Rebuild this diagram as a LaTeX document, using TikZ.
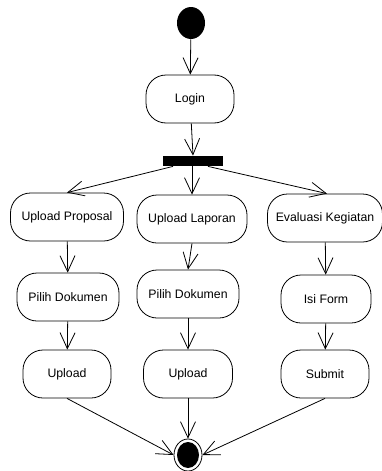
\documentclass[tikz,border=0pt]{standalone}
\usepackage{fontspec}
\setmainfont{Liberation Sans}
\usetikzlibrary{arrows.meta,shapes.geometric,calc}
\begin{document}
\begin{tikzpicture}[x=1pt,y=-1pt,
  line width=0.8pt,
  act/.style={draw, rectangle, rounded corners=20pt, inner sep=0pt,
    minimum height=48pt, font=\fontsize{12.3}{14}\selectfont},
  flow/.style={-{Straight Barb[length=16pt,width=15pt,line width=0.8pt]}}
]
\useasboundingbox (0,0) rectangle (382,471);

% initial state, activity and fork bar
\node[ellipse, fill=black, minimum width=28pt, minimum height=32pt, inner sep=0pt] (start) at (191,23) {};
\node[act, minimum width=88pt] (login) at (190,99) {Login};
\node[fill=black, minimum width=60pt, minimum height=10pt, inner sep=0pt] (bar) at (193,161) {};

% first row of activities
\node[act, minimum width=113pt] (upprop) at (67,217) {Upload Proposal};
\node[act, minimum width=110pt] (uplap) at (192,219) {Upload Laporan};
\node[act, minimum width=115pt] (eval) at (325,218) {Evaluasi Kegiatan};

% second row
\node[act, minimum width=102pt] (pilih1) at (68,297) {Pilih Dokumen};
\node[act, minimum width=102pt] (pilih2) at (188,294) {Pilih Dokumen};
\node[act, minimum width=90pt] (isi) at (326,299) {Isi Form};

% third row
\node[act, minimum width=88pt] (upl1) at (67,374) {Upload};
\node[act, minimum width=89pt] (upl2) at (188,374) {Upload};
\node[act, minimum width=88pt] (submit) at (325,374) {Submit};

% final state
\node[ellipse, draw, minimum width=28pt, minimum height=32pt, inner sep=0pt] (end) at (188,455) {};
\node[ellipse, fill=black, minimum width=22pt, minimum height=26pt, inner sep=0pt] (endin) at (end) {};

% control flow
\draw[flow] (start) -- (login);
\draw[flow] (login) -- (bar.north);
\draw[flow] ([xshift=-20pt]bar.south) -- (upprop.north);
\draw[flow] ([xshift=-1pt]bar.south) -- (uplap.north);
\draw[flow] ([xshift=15pt]bar.south) -- ([xshift=2pt]eval.north);

\draw[flow] (upprop) -- (pilih1);
\draw[flow] (uplap.south) -- (pilih2.north);
\draw[flow] (eval) -- (isi);

\draw[flow] (pilih1) -- (upl1);
\draw[flow] (pilih2) -- (upl2);
\draw[flow] (isi) -- (submit);

\draw[flow] (upl1.south) -- (end.west);
\draw[flow] (upl2) -- (end.north);
\draw[flow] (submit.south) -- (end.east);
\end{tikzpicture}
\end{document}
